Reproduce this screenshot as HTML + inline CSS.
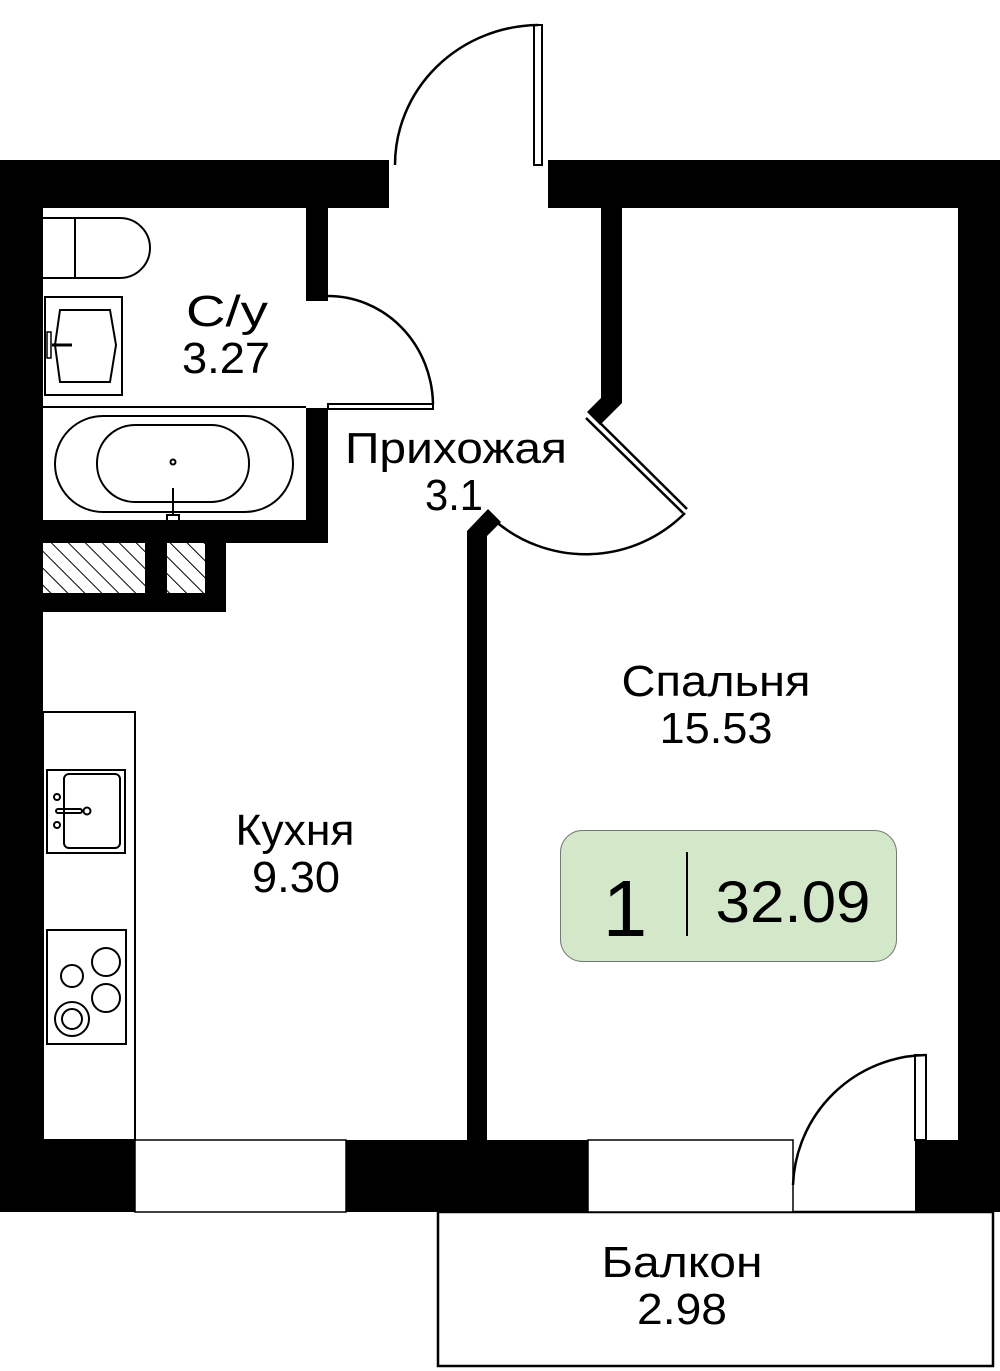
<!DOCTYPE html>
<html><head><meta charset="utf-8"><style>
html,body{margin:0;padding:0;background:#fff}
svg{display:block}
text{font-family:"Liberation Sans",sans-serif;fill:#000;text-anchor:middle}
</style></head><body>
<svg width="1000" height="1371" viewBox="0 0 1000 1371" xmlns="http://www.w3.org/2000/svg">
<defs>
<pattern id="h" width="12" height="12" patternUnits="userSpaceOnUse" patternTransform="rotate(-45)">
<rect width="12" height="12" fill="#fff"/><line x1="0" y1="0" x2="0" y2="12" stroke="#000" stroke-width="2"/>
</pattern>
</defs>
<rect x="438" y="1212" width="555" height="154" fill="#fff" stroke="#000" stroke-width="2.5"/>
<g fill="#000">
<rect x="0" y="160" width="389" height="48"/>
<rect x="548" y="160" width="452" height="48"/>
<rect x="0" y="160" width="43" height="1052"/>
<rect x="958" y="160" width="42" height="980"/>
<rect x="915" y="1140" width="85" height="72"/>
<rect x="0" y="1140" width="135" height="72"/>
<rect x="346" y="1140" width="242" height="72"/>
<rect x="306" y="208" width="22" height="93"/>
<rect x="306" y="408" width="22" height="135"/>
<rect x="43" y="520" width="285" height="23"/>
<rect x="145" y="543" width="22" height="55"/>
<rect x="205" y="543" width="21" height="69"/>
<rect x="43" y="593" width="183" height="19"/>
<polygon points="601,208 622,208 622,403 600,425 587,412 601,398"/>
<polygon points="467,1140 467,531 488,509 501,522 487,536 487,1140"/>
</g>
<rect x="43" y="543" width="102" height="50" fill="url(#h)"/>
<rect x="167" y="543" width="38" height="50" fill="url(#h)"/>
<g fill="#fff" stroke="#000" stroke-width="1.5">
<rect x="135" y="1140" width="211" height="72"/>
<rect x="588" y="1140" width="205" height="72"/>
</g>
<g fill="none" stroke="#000" stroke-width="2.5">
<rect x="534" y="25" width="8" height="140" stroke-width="2"/>
<path d="M395,165 A145,140 0 0 1 538,25"/>
<rect x="328" y="404" width="105" height="5" stroke-width="2"/>
<path d="M328,296 A105,110 0 0 1 433,404"/>
<path d="M586,418 L683,513 M590,413 L687,509" stroke-width="2.5"/>
<path d="M685,513 A140,140 0 0 1 494,520"/>
<rect x="915" y="1055" width="11" height="85" stroke-width="2"/>
<path d="M926,1055 A135,135 0 0 0 793,1185"/>
</g>
<g fill="none" stroke="#000" stroke-width="2">
<path d="M43,218 H120 A30,30 0 0 1 120,278 H43"/>
<line x1="75" y1="218" x2="75" y2="278"/>
<rect x="45" y="297" width="77" height="98"/>
<path d="M60,310 H110 L116,345 L110,382 H60 L55,345 Z"/>
<line x1="52" y1="345" x2="72" y2="345" stroke-width="3"/>
<rect x="47" y="332" width="4" height="26" stroke-width="1.5"/>
<line x1="43" y1="407" x2="306" y2="407"/>
<rect x="55" y="416" width="238" height="96" rx="48"/>
<rect x="97" y="425" width="152" height="77" rx="38"/>
<circle cx="173" cy="462" r="2.5"/>
<line x1="173" y1="488" x2="173" y2="515"/>
<rect x="167" y="515" width="12" height="6"/>
<rect x="43" y="712" width="92" height="428"/>
<rect x="47" y="770" width="78" height="83"/>
<rect x="64" y="774" width="56" height="74" rx="5"/>
<circle cx="57" cy="797" r="3"/><circle cx="57" cy="825" r="3"/>
<rect x="56" y="809" width="26" height="4" rx="2"/><circle cx="87" cy="811" r="3.5"/>
<rect x="47" y="930" width="79" height="114"/>
<circle cx="72" cy="976" r="11"/>
<circle cx="106" cy="962" r="14"/>
<circle cx="106" cy="998" r="14"/>
<circle cx="72" cy="1019" r="17"/>
<circle cx="72" cy="1019" r="10"/>
</g>
<g font-size="44" lengthAdjust="spacingAndGlyphs">
<text x="227" y="326" textLength="82" lengthAdjust="spacingAndGlyphs">С/у</text>
<text x="226" y="373" textLength="88" lengthAdjust="spacingAndGlyphs">3.27</text>
<text x="456" y="463" textLength="222" lengthAdjust="spacingAndGlyphs">Прихожая</text>
<text x="454" y="510" textLength="58" lengthAdjust="spacingAndGlyphs">3.1</text>
<text x="716" y="696" textLength="189" lengthAdjust="spacingAndGlyphs">Спальня</text>
<text x="716" y="743" textLength="113" lengthAdjust="spacingAndGlyphs">15.53</text>
<text x="295" y="845" textLength="119" lengthAdjust="spacingAndGlyphs">Кухня</text>
<text x="296" y="892" textLength="88" lengthAdjust="spacingAndGlyphs">9.30</text>
<text x="682" y="1277" textLength="161" lengthAdjust="spacingAndGlyphs">Балкон</text>
<text x="682" y="1324" textLength="90" lengthAdjust="spacingAndGlyphs">2.98</text>
</g>
<rect x="560.5" y="830.5" width="336" height="131" rx="22" fill="#d2e8c9" stroke="#777" stroke-width="1"/>
<text x="625" y="936" font-size="80">1</text>
<line x1="687" y1="852" x2="687" y2="936" stroke="#000" stroke-width="2"/>
<text x="793" y="922" font-size="58" textLength="155" lengthAdjust="spacingAndGlyphs">32.09</text>
</svg>
</body></html>
